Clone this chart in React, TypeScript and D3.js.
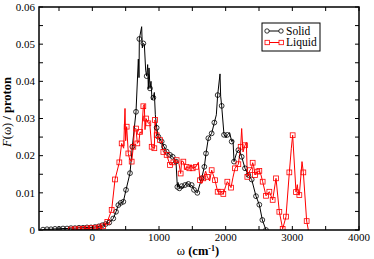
import React from "react";
import * as d3 from "d3";

// ---- Data (ω in cm^-1, F(ω) per proton) ----
const solidMarkers: [number, number][] = [
  [-740, 0.0001], [-680, 0.0002], [-620, 0.0002], [-560, 0.0003], [-500, 0.0003],
  [-440, 0.0004], [-380, 0.0004], [-320, 0.0005], [-260, 0.0005], [-200, 0.0006],
  [-140, 0.0006], [-80, 0.0007], [-20, 0.0007], [40, 0.0008], [100, 0.001],
  [150, 0.0013], [200, 0.0016], [254, 0.002], [314, 0.0031], [355, 0.0049],
  [390, 0.0067], [426, 0.0073], [465, 0.0076], [505, 0.0108], [565, 0.0153],
  [600, 0.0224], [655, 0.0318], [705, 0.0514], [765, 0.0502], [815, 0.0414],
  [865, 0.0381], [915, 0.0356], [965, 0.0275], [990, 0.0251], [1040, 0.0238],
  [1075, 0.0224], [1115, 0.0211], [1165, 0.0202], [1205, 0.0197], [1255, 0.0184],
  [1275, 0.0116], [1305, 0.0112], [1340, 0.0118], [1390, 0.0121], [1440, 0.0124],
  [1490, 0.0121], [1525, 0.0108], [1575, 0.01], [1640, 0.0139], [1680, 0.017],
  [1705, 0.0206], [1740, 0.0247], [1790, 0.026], [1830, 0.0289], [1880, 0.0363],
  [1940, 0.0334], [1975, 0.0256], [2025, 0.0256], [2090, 0.0238], [2125, 0.0184],
  [2190, 0.0215], [2240, 0.0197], [2290, 0.0166], [2340, 0.0148], [2390, 0.0136],
  [2455, 0.0091], [2505, 0.0068], [2550, 0.0027], [2605, 0.0],
];
const solidSpikes: [number, number][] = [
  [690, 0.046], [700, 0.041], [740, 0.0547], [750, 0.049], [780, 0.05], [800, 0.043],
  [830, 0.0445], [840, 0.038], [850, 0.0436], [880, 0.04], [895, 0.035], [930, 0.037],
  [945, 0.031], [1285, 0.0128], [1355, 0.0112], [1420, 0.0128], [1465, 0.0116],
  [1860, 0.031], [1915, 0.042], [1925, 0.036], [2005, 0.0248], [2060, 0.0262],
  [2110, 0.0242], [2160, 0.0205], [2215, 0.021],
];

const liquidMarkers: [number, number][] = [
  [-320, 0.0001], [-260, 0.0002], [-200, 0.0002], [-140, 0.0003], [-80, 0.0004],
  [-20, 0.0005], [40, 0.0005], [100, 0.0007], [160, 0.001], [225, 0.0022],
  [290, 0.0054], [340, 0.0136], [405, 0.0182], [440, 0.0233], [515, 0.0278],
  [540, 0.0206], [590, 0.0184], [615, 0.0224], [655, 0.0273], [675, 0.0233],
  [715, 0.0264], [765, 0.0333], [805, 0.03], [840, 0.0287], [890, 0.0224],
  [930, 0.022], [940, 0.0296], [965, 0.0255], [1015, 0.0242], [1065, 0.021],
  [1115, 0.0202], [1165, 0.0175], [1215, 0.0182], [1265, 0.0188], [1325, 0.0152],
  [1365, 0.0184], [1415, 0.017], [1455, 0.0166], [1505, 0.0166], [1555, 0.017],
  [1615, 0.0134], [1665, 0.0139], [1725, 0.0143], [1790, 0.0161], [1840, 0.0134],
  [1880, 0.0103], [1930, 0.0103], [1965, 0.0097], [2025, 0.013], [2080, 0.0114],
  [2140, 0.0166], [2190, 0.0177], [2225, 0.0224], [2290, 0.0228], [2325, 0.0143],
  [2365, 0.0161], [2405, 0.0181], [2440, 0.0148], [2475, 0.0157], [2505, 0.0159],
  [2555, 0.013], [2605, 0.0092], [2655, 0.0103], [2705, 0.0081], [2755, 0.0139],
  [2805, 0.0049], [2855, 0.0003], [2905, 0.0036], [2955, 0.0155], [3005, 0.0255],
  [3055, 0.0102], [3105, 0.0094], [3165, 0.0155], [3215, 0.0024],
];
const liquidSpikes: [number, number][] = [
  [470, 0.022], [490, 0.0327], [500, 0.024], [560, 0.019], [630, 0.027],
  [700, 0.024], [740, 0.026], [780, 0.0338], [790, 0.027], [860, 0.029],
  [1040, 0.0236], [1300, 0.0178], [1340, 0.0186], [1395, 0.0162], [1480, 0.0176],
  [1590, 0.0182], [1640, 0.0125], [1700, 0.0158], [1760, 0.0132], [2000, 0.0118],
  [2110, 0.0142], [2240, 0.0273], [2260, 0.021], [2310, 0.0236], [2385, 0.0165],
  [2420, 0.0172], [2530, 0.0148], [2985, 0.022], [3075, 0.0122], [3090, 0.0095],
  [3145, 0.0184], [3240, 0.0],
];

const xTicks = [-500, 0, 500, 1000, 1500, 2000, 2500, 3000, 3500, 4000];
const xLabels = [0, 1000, 2000, 3000, 4000];
const yTicks = [0, 0.005, 0.01, 0.015, 0.02, 0.025, 0.03, 0.035, 0.04, 0.045, 0.05, 0.055, 0.06];
const yLabels = [0, 0.01, 0.02, 0.03, 0.04, 0.05, 0.06];
const seriesNames = ["Solid", "Liquid"];

const W = 374, H = 259;
const M = { left: 39, right: 359, top: 7, bottom: 230 };
const FONT = "'Times New Roman', 'Liberation Serif', serif";

export default function App() {
  const x = d3.scaleLinear().domain([-800, 4000]).range([M.left, M.right]);
  const y = d3.scaleLinear().domain([0, 0.06]).range([M.bottom, M.top]);
  const line = d3.line<[number, number]>().x((d) => x(d[0])).y((d) => y(d[1]));
  const merge = (a: [number, number][], b: [number, number][]) =>
    [...a, ...b].sort((p, q) => p[0] - q[0]);
  const solidLine = merge(solidMarkers, solidSpikes);
  const liquidLine = merge(liquidMarkers, liquidSpikes);
  const tl = 4;
  const yFmt = (v: number) => (v === 0 ? "0" : d3.format(".2f")(v));

  return (
    <svg width={W} height={H} style={{ position: "absolute", left: 0, top: 0, fontFamily: FONT }}>
      <rect width={W} height={H} fill="white" />
      <defs>
        <clipPath id="plotclip">
          <rect x={M.left} y={M.top} width={M.right - M.left} height={M.bottom - M.top} />
        </clipPath>
      </defs>
      <g clipPath="url(#plotclip)">
        <path d={line(solidLine) || ""} fill="none" stroke="black" strokeWidth={1} />
        <path d={line(liquidLine) || ""} fill="none" stroke="#ff0000" strokeWidth={1} />
        {solidMarkers.map((d, i) => (
          <circle key={"s" + i} cx={x(d[0])} cy={y(d[1])} r={2.4} fill="none" stroke="black" strokeWidth={0.8} />
        ))}
        {liquidMarkers.map((d, i) => (
          <rect key={"l" + i} x={x(d[0]) - 2.4} y={y(d[1]) - 2.4} width={4.8} height={4.8} fill="none" stroke="#ff0000" strokeWidth={0.8} />
        ))}
      </g>
      {/* frame */}
      <rect x={M.left} y={M.top} width={M.right - M.left} height={M.bottom - M.top} fill="none" stroke="black" strokeWidth={1.5} />
      {xTicks.map((t) => (
        <g key={"xt" + t}>
          <line x1={x(t)} x2={x(t)} y1={M.bottom} y2={M.bottom - tl} stroke="black" strokeWidth={1} />
          <line x1={x(t)} x2={x(t)} y1={M.top} y2={M.top + tl} stroke="black" strokeWidth={1} />
        </g>
      ))}
      {yTicks.map((t) => (
        <g key={"yt" + t}>
          <line x1={M.left} x2={M.left + tl} y1={y(t)} y2={y(t)} stroke="black" strokeWidth={1} />
          <line x1={M.right} x2={M.right - tl} y1={y(t)} y2={y(t)} stroke="black" strokeWidth={1} />
        </g>
      ))}
      {xLabels.map((t) => (
        <text key={"xl" + t} x={x(t)} y={M.bottom + 10.5} fontSize={11} textAnchor="middle">{t}</text>
      ))}
      {yLabels.map((t) => (
        <text key={"yl" + t} x={M.left - 4} y={y(t) + 3.8} fontSize={11} textAnchor="end">{yFmt(t)}</text>
      ))}
      <text x={198} y={254.5} fontSize={12.5} textAnchor="middle">
        ω <tspan fontWeight="bold">(cm</tspan><tspan fontWeight="bold" dy={-4} fontSize={8}>-1</tspan><tspan fontWeight="bold" dy={4}>)</tspan>
      </text>
      <text transform={`translate(10.5,112) rotate(-90)`} fontSize={12.5} textAnchor="middle">
        <tspan fontStyle="italic">F</tspan>(ω) <tspan fontWeight="bold">/ proton</tspan>
      </text>
      {/* legend */}
      <rect x={262} y={23} width={58} height={28} fill="white" stroke="black" strokeWidth={1} />
      {seriesNames.map((n, i) => {
        const yy = 31 + i * 11.5;
        const col = i === 0 ? "black" : "#ff0000";
        return (
          <g key={n}>
            <line x1={267} x2={281} y1={yy} y2={yy} stroke={col} strokeWidth={1} />
            {i === 0 ? (
              <>
                <circle cx={267} cy={yy} r={2.2} fill="white" stroke={col} strokeWidth={0.8} />
                <circle cx={281} cy={yy} r={2.2} fill="white" stroke={col} strokeWidth={0.8} />
              </>
            ) : (
              <>
                <rect x={265} y={yy - 2.2} width={4.4} height={4.4} fill="white" stroke={col} strokeWidth={0.8} />
                <rect x={279} y={yy - 2.2} width={4.4} height={4.4} fill="white" stroke={col} strokeWidth={0.8} />
              </>
            )}
            <text x={286} y={yy + 3.8} fontSize={11.5}>{n}</text>
          </g>
        );
      })}
    </svg>
  );
}
